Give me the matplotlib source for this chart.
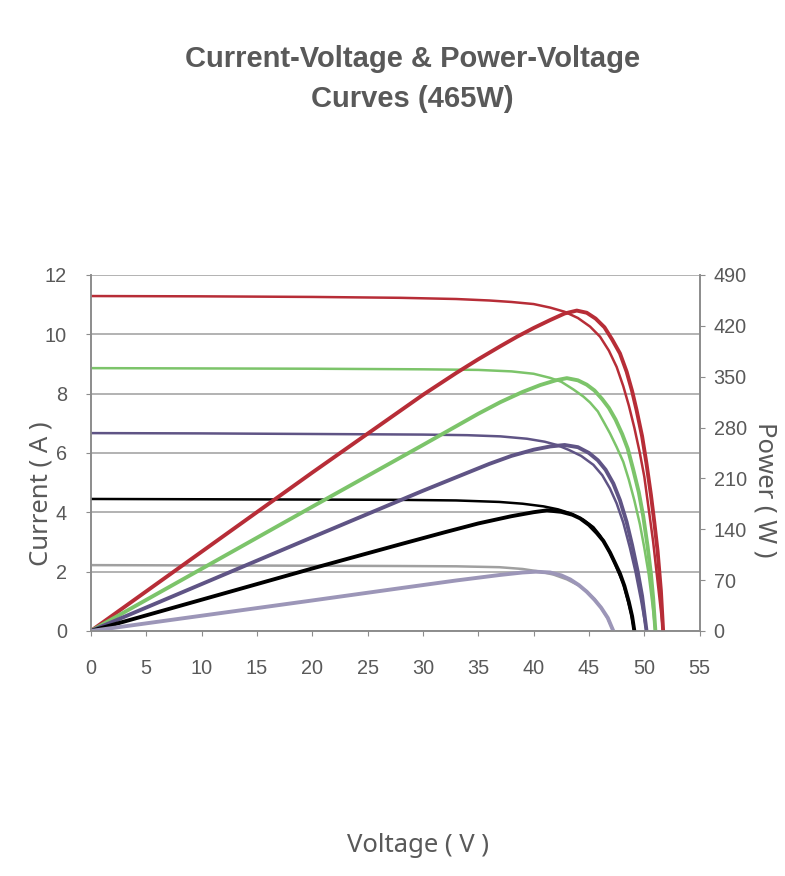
import matplotlib.pyplot as plt

# I-V curves (voltage V, current A)
red_iv_v = [0, 10, 20, 28, 33, 36, 38, 40, 41.5, 42.8, 44, 45.1, 46.0, 46.8, 47.5, 48.1, 48.6, 49.1, 49.6, 50.0, 50.4, 50.8, 51.1, 51.4, 51.7]
red_iv_i = [11.29, 11.28, 11.26, 11.23, 11.19, 11.14, 11.09, 11.02, 10.9, 10.76, 10.55, 10.26, 9.92, 9.45, 8.9, 8.25, 7.6, 6.85, 5.99, 5.2, 4.1, 3.0, 2.0, 1.0, 0]
green_iv_v = [0, 10, 20, 30, 35, 38, 40, 41.5, 42.5, 43.6, 44.5, 45.1, 45.8, 46.4, 46.9, 47.5, 48.1, 48.6, 49.1, 49.6, 50.0, 50.4, 50.7, 51.0]
green_iv_i = [8.86, 8.85, 8.84, 8.82, 8.8, 8.75, 8.67, 8.53, 8.4, 8.14, 7.9, 7.7, 7.4, 7.0, 6.66, 6.2, 5.7, 5.1, 4.4, 3.6, 2.8, 1.9, 1.0, 0]
purple_iv_v = [0, 10, 20, 30, 34, 37, 39.4, 41, 42.1, 43.2, 44.3, 45.4, 46.2, 46.9, 47.5, 48.1, 48.7, 49.2, 49.7, 50.2]
purple_iv_i = [6.67, 6.66, 6.64, 6.62, 6.6, 6.56, 6.48, 6.38, 6.27, 6.1, 5.9, 5.6, 5.25, 4.8, 4.3, 3.65, 2.8, 2.0, 1.05, 0]
black_iv_v = [0, 10, 20, 28, 33, 36.9, 39, 40.9, 42.2, 43.3, 44.5, 45.4, 46.0, 46.6, 47.2, 47.7, 48.1, 48.5, 48.8, 49.1]
black_iv_i = [4.45, 4.44, 4.43, 4.42, 4.4, 4.35, 4.29, 4.2, 4.1, 3.97, 3.75, 3.5, 3.22, 2.85, 2.4, 1.95, 1.6, 1.05, 0.6, 0]
gray_iv_v = [0, 10, 20, 28, 33, 36.9, 39, 40.6, 41.8, 43.0, 44.0, 44.8, 45.5, 46.1, 46.7, 47.2]
gray_iv_i = [2.22, 2.21, 2.2, 2.19, 2.18, 2.15, 2.09, 2.0, 1.9, 1.74, 1.55, 1.33, 1.08, 0.78, 0.42, 0]

# P-V curves (voltage V, power W)
red_pv_v = [0, 10, 20, 30, 33, 35, 37, 38.5, 40, 41.5, 42.8, 43.9, 44.8, 45.6, 46.4, 47.1, 47.8, 48.4, 48.9, 49.3, 49.8, 50.2, 50.6, 50.9, 51.2, 51.5, 51.7]
red_pv_p = [0, 109, 218, 325, 355, 374, 392, 405, 417, 428, 437, 441, 438, 430, 418, 401, 382, 357, 330, 304, 268, 230, 187, 150, 110, 55, 0]
green_pv_v = [0, 10, 20, 30, 35, 37, 39, 40.6, 42, 43.0, 44.0, 44.8, 45.5, 46.2, 46.8, 47.4, 48.0, 48.5, 49.0, 49.5, 49.9, 50.3, 50.6, 50.8, 51.0]
green_pv_p = [0, 85.5, 171, 256, 299, 315, 329, 338.5, 345, 348, 345, 339, 331, 319, 307, 291, 271, 251, 222, 191, 158, 116, 78, 45, 0]
purple_pv_v = [0, 10, 20, 30, 33.4, 36, 38, 40, 41.5, 42.8, 44.0, 45.0, 45.8, 46.5, 47.2, 47.8, 48.4, 48.9, 49.4, 49.8, 50.2]
purple_pv_p = [0, 64.5, 129, 193, 214, 230, 241, 249.5, 254, 256, 253, 245, 235, 222, 203, 180, 150, 118, 82, 48, 0]
black_pv_v = [0, 10, 20, 28, 32, 35, 38, 40, 41.2, 42.5, 43.5, 44.2, 45.0, 45.7, 46.3, 46.9, 47.4, 47.8, 48.2, 48.6, 48.9, 49.1]
black_pv_p = [0, 43, 86, 119.5, 136, 148, 158, 163.5, 166, 164, 160, 155, 146, 135, 124, 108, 92, 79, 62, 40, 20, 0]
lav_pv_v = [0, 10, 20, 28, 33, 36.9, 39, 40.2, 41.5, 42.5, 43.3, 44.1, 44.8, 45.5, 46.1, 46.7, 47.2]
lav_pv_p = [0, 21, 42, 59, 69.5, 77, 80.5, 81.6, 80.5, 76.5, 71, 63, 54, 43, 32, 18, 0]

c_red = '#B72D37'
c_green = '#7CC46A'
c_purple = '#5F5485'
c_black = '#000000'
c_gray = '#A0A0A0'
c_lav = '#9C96B8'
txt = '#595959'
axc = '#8C8C8C'

fig = plt.figure(figsize=(7.85, 8.76), dpi=100)
ax = fig.add_axes([0.1157, 0.2797, 0.7756, 0.4064])
ax2 = ax.twinx()

iv_lw = 1.8
pv_lw = 2.8
ax.plot(red_iv_v, red_iv_i, color=c_red, lw=iv_lw, zorder=3, solid_joinstyle='round')
ax.plot(green_iv_v, green_iv_i, color=c_green, lw=iv_lw, zorder=3, solid_joinstyle='round')
ax.plot(purple_iv_v, purple_iv_i, color=c_purple, lw=iv_lw, zorder=3, solid_joinstyle='round')
ax.plot(black_iv_v, black_iv_i, color=c_black, lw=iv_lw, zorder=3, solid_joinstyle='round')
ax.plot(gray_iv_v, gray_iv_i, color=c_gray, lw=iv_lw, zorder=3, solid_joinstyle='round')

ax2.plot(red_pv_v, red_pv_p, color=c_red, lw=pv_lw, solid_joinstyle='round')
ax2.plot(green_pv_v, green_pv_p, color=c_green, lw=pv_lw, solid_joinstyle='round')
ax2.plot(purple_pv_v, purple_pv_p, color=c_purple, lw=pv_lw, solid_joinstyle='round')
ax2.plot(black_pv_v, black_pv_p, color=c_black, lw=pv_lw, solid_joinstyle='round')
ax2.plot(lav_pv_v, lav_pv_p, color=c_lav, lw=pv_lw, solid_joinstyle='round')

ax.set_xlim(0, 55)
ax.set_ylim(0, 12)
ax2.set_ylim(0, 490)
ax.set_xticks(range(0, 56, 5))
ax.set_yticks(range(0, 13, 2))
ax2.set_yticks(range(0, 491, 70))

ax.yaxis.grid(True, color='#A6A6A6', lw=1.2)
ax.set_axisbelow(True)

for a in (ax, ax2):
    a.spines['top'].set_visible(False)
    for s in ('left', 'right', 'bottom'):
        a.spines[s].set_color(axc)
        a.spines[s].set_linewidth(1.2)

ax.tick_params(axis='y', direction='out', length=3.6, color=axc, labelcolor=txt, pad=13.7)
ax.tick_params(axis='x', direction='out', length=3.6, color=axc, labelcolor=txt, pad=16.5)
ax2.tick_params(axis='y', direction='out', length=3.6, color=axc, labelcolor=txt, pad=6.5)
for lab in ax.get_xticklabels() + ax.get_yticklabels() + ax2.get_yticklabels():
    lab.set_fontfamily('Liberation Sans')
    lab.set_fontsize(14.3)

label_font = {'family': 'Noto Sans', 'size': 18.5, 'color': txt}
fig.text(0.052, 1 - 494 / 876, 'Current ( A )', rotation=90, ha='center', va='center', fontdict=label_font)
fig.text(0.9745, 1 - 490 / 876, 'Power ( W )', rotation=270, ha='center', va='center', fontdict=label_font)
fig.text(0.5325, 1 - 845 / 876, 'Voltage ( V )', ha='center', va='center', fontdict=label_font)

title_font = {'family': 'Liberation Sans', 'size': 21, 'weight': 'bold', 'color': txt}
fig.text(0.525, 1 - 59 / 876, 'Current-Voltage & Power-Voltage', ha='center', va='center', fontdict=title_font)
fig.text(0.525, 1 - 99 / 876, 'Curves (465W)', ha='center', va='center', fontdict=title_font)

fig.savefig('out.png', dpi=100)
